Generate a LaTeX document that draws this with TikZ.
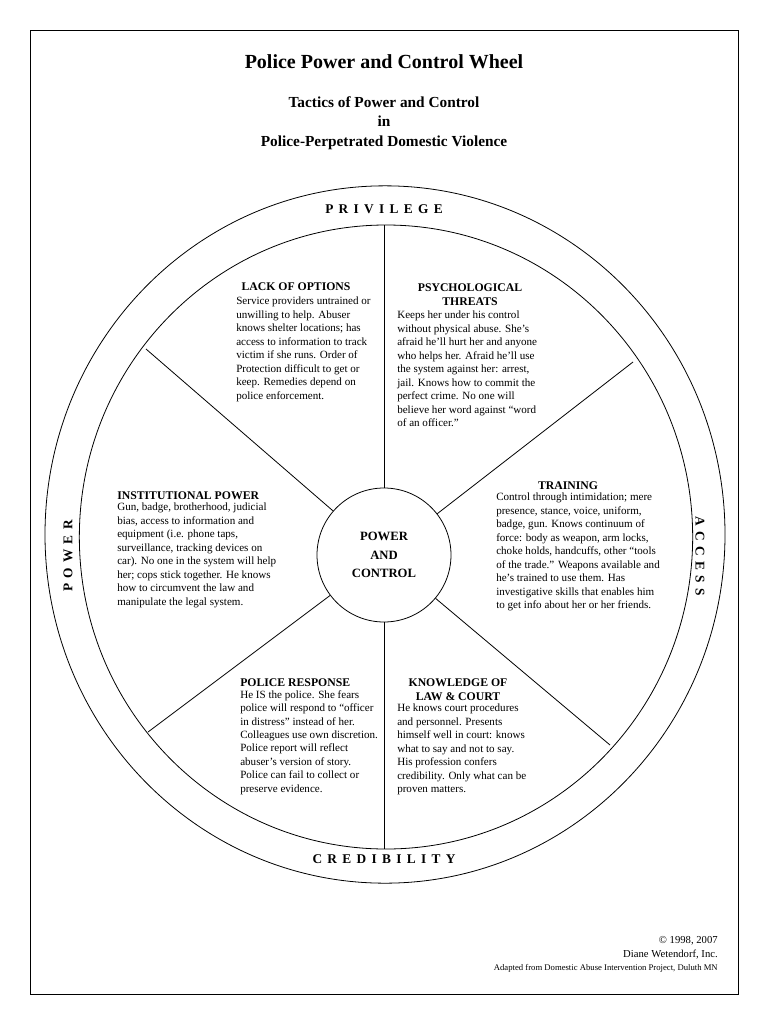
\documentclass[tikz,border=0pt]{standalone}
\usepackage{fontspec}
\setmainfont{Liberation Serif}
\usetikzlibrary{shapes.geometric}
\begin{document}
\begin{tikzpicture}[x=0.75pt,y=-0.75pt,
  body/.style={font=\fontsize{8.3}{10.1}\selectfont,align=left,anchor=north west,inner sep=0pt},
  head/.style={font=\fontsize{8.8}{10.5}\selectfont\bfseries,align=center,inner sep=0pt},
  rim/.style={font=\fontsize{10}{12}\selectfont\bfseries\addfontfeature{LetterSpace=40},inner sep=0pt}]
\useasboundingbox (0,0) rectangle (768,1024);
\draw[line width=0.6pt] (30,30) rectangle (738,994);
\node[font=\fontsize{15}{18}\selectfont\bfseries] (t) at (384,62) {Police Power and Control Wheel};
\node[font=\fontsize{11.5}{14.5}\selectfont\bfseries,align=center] (st) at (384,123) {Tactics of Power and Control\\in\\Police-Perpetrated Domestic Violence};
\node[draw,ellipse,inner sep=0pt,minimum width=510pt,minimum height=523pt,line width=0.6pt] (oe) at (385,534.5) {};
\node[draw,ellipse,inner sep=0pt,minimum width=460pt,minimum height=468pt,line width=0.6pt] (ie) at (386,537) {};
\node[draw,circle,inner sep=0pt,minimum size=100.5pt,line width=0.6pt,font=\fontsize{9.5}{14}\selectfont\bfseries,align=center] (c) at (384,555) {POWER\\AND\\CONTROL};
\coordinate (p1) at (384,225); \coordinate (p2) at (633,362); \coordinate (p3) at (610,745);
\coordinate (p4) at (384,849); \coordinate (p5) at (148,732); \coordinate (p6) at (146,349);
\foreach \p in {p1,p2,p3,p4,p5,p6} \draw[line width=0.6pt] (c) -- (\p);
\node[rim] (r1) at (384,209) {PRIVILEGE};
\node[rim] (r2) at (384,859) {CREDIBILITY};
\node[rim,rotate=90] (r3) at (68,556) {POWER};
\node[rim,rotate=-90] (r4) at (700,556) {ACCESS};
\node[head] (h1) at (296,287) {LACK OF OPTIONS};
\node[body] (b1) at (236,297) {Service providers untrained or\\unwilling to help. Abuser\\knows shelter locations; has\\access to information to track\\victim if she runs. Order of\\Protection difficult to get or\\keep. Remedies depend on\\police enforcement.};
\node[head] (h2) at (470,295) {PSYCHOLOGICAL\\THREATS};
\node[body] (b2) at (397,311) {Keeps her under his control\\without physical abuse. She’s\\afraid he’ll hurt her and anyone\\who helps her. Afraid he’ll use\\the system against her: arrest,\\jail. Knows how to commit the\\perfect crime. No one will\\believe her word against “word\\of an officer."};
\node[head] (h3) at (568,486) {TRAINING};
\node[body] (b3) at (496,493) {Control through intimidation; mere\\presence, stance, voice, uniform,\\badge, gun. Knows continuum of\\force: body as weapon, arm locks,\\choke holds, handcuffs, other “tools\\of the trade.” Weapons available and\\he’s trained to use them. Has\\investigative skills that enables him\\to get info about her or her friends.};
\node[head,anchor=west] (h4) at (117,496) {INSTITUTIONAL POWER};
\node[body] (b4) at (117,503) {Gun, badge, brotherhood, judicial\\bias, access to information and\\equipment (i.e. phone taps,\\surveillance, tracking devices on\\car). No one in the system will help\\her; cops stick together. He knows\\how to circumvent the law and\\manipulate the legal system.};
\node[head,anchor=west] (h5) at (240,683) {POLICE RESPONSE};
\node[body] (b5) at (240,690) {He IS the police. She fears\\police will respond to “officer\\in distress” instead of her.\\Colleagues use own discretion.\\Police report will reflect\\abuser’s version of story.\\Police can fail to collect or\\preserve evidence.};
\node[head] (h6) at (458,690) {KNOWLEDGE OF\\LAW \& COURT};
\node[body] (b6) at (397,704) {He knows court procedures\\and personnel. Presents\\himself well in court: knows\\what to say and not to say.\\His profession confers\\credibility. Only what can be\\proven matters.};
\node[font=\fontsize{8}{10.5}\selectfont,align=right,anchor=north east,inner sep=0pt] (f1) at (718,936) {© 1998, 2007\\Diane Wetendorf, Inc.};
\node[font=\fontsize{6.5}{8}\selectfont,anchor=north east,inner sep=0pt] (f2) at (718,964) {Adapted from Domestic Abuse Intervention Project, Duluth MN};
\end{tikzpicture}
\end{document}
